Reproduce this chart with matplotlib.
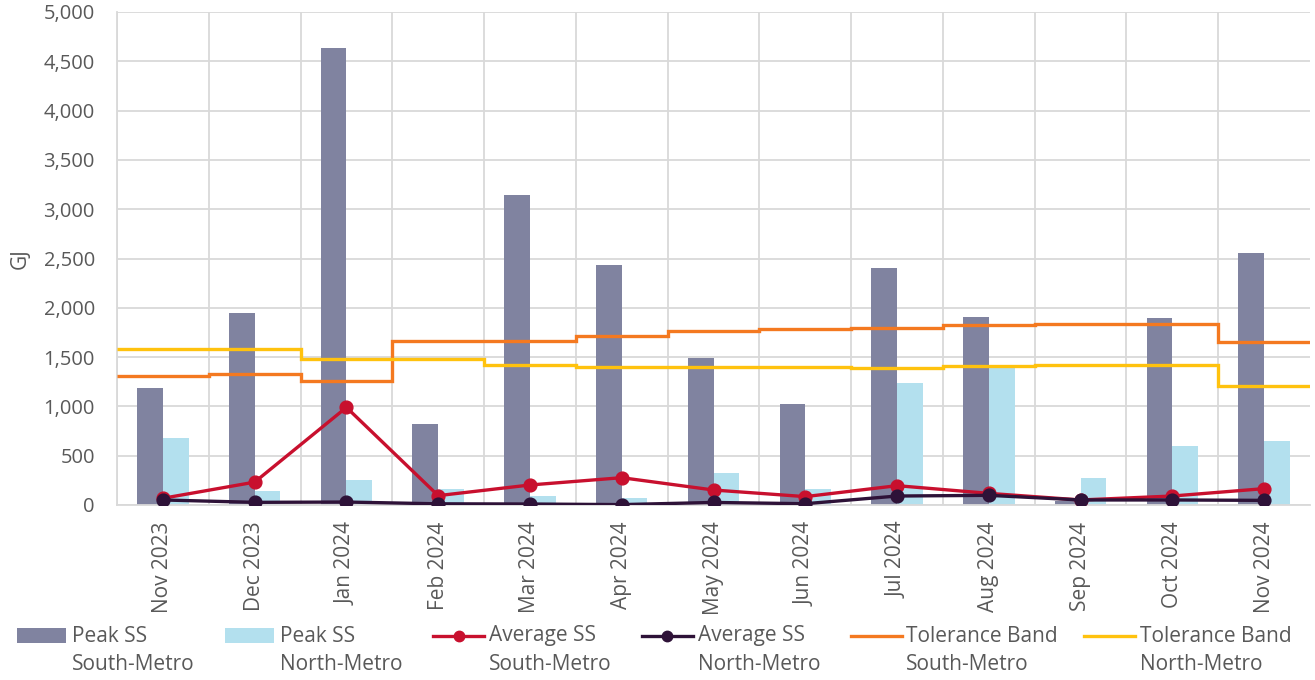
import matplotlib
matplotlib.use("Agg")
import matplotlib.pyplot as plt
import numpy as np
from matplotlib.ticker import FuncFormatter, MultipleLocator, FixedLocator
from matplotlib.patches import Rectangle
from matplotlib.lines import Line2D

plt.rcParams['font.family'] = ['Open Sans', 'DejaVu Sans']

months = ["Nov 2023", "Dec 2023", "Jan 2024", "Feb 2024", "Mar 2024", "Apr 2024",
          "May 2024", "Jun 2024", "Jul 2024", "Aug 2024", "Sep 2024", "Oct 2024", "Nov 2024"]
peak_south = [1186, 1944, 4630, 824, 3145, 2436, 1487, 1021, 2403, 1910, 45, 1896, 2555]
peak_north = [676, 142, 250, 162, 91, 68, 324, 159, 1240, 1392, 270, 602, 646]
avg_south = [68, 232, 990, 95, 203, 277, 152, 85, 196, 118, 51, 91, 166]
avg_north = [51, 27, 30, 12, 10, 4, 26, 13, 91, 98, 51, 51, 47]
tol_south = [1311, 1328, 1257, 1660, 1663, 1717, 1764, 1785, 1795, 1825, 1838, 1835, 1656]
tol_north = [1579, 1582, 1480, 1477, 1416, 1403, 1403, 1396, 1392, 1406, 1416, 1423, 1203]
legend_labels = [("Peak SS", "South-Metro"), ("Peak SS", "North-Metro"),
                 ("Average SS", "South-Metro"), ("Average SS", "North-Metro"),
                 ("Tolerance Band", "South-Metro"), ("Tolerance Band", "North-Metro")]

c_ps = "#8083A0"
c_pn = "#B3E0EE"
c_as = "#C8102E"
c_an = "#2E1238"
c_ts = "#F47920"
c_tn = "#FFC20E"
grid_c = "#D9D9D9"
text_c = "#595959"

W, H = 1315, 680
fig = plt.figure(figsize=(W/100, H/100), dpi=100)
ax = fig.add_axes([117/W, 1-505/H, (1310-117)/W, (505-12)/H])

x = np.arange(len(months))
w = 0.28
ax.bar(x - w/2, peak_south, width=w, color=c_ps, zorder=2)
ax.bar(x + w/2, peak_north, width=w, color=c_pn, zorder=2)
edges = np.arange(len(months) + 1) - 0.5
ax.stairs(tol_south, edges, baseline=None, color=c_ts, lw=2.4, zorder=3)
ax.stairs(tol_north, edges, baseline=None, color=c_tn, lw=2.4, zorder=3)
ax.plot(x, avg_south, color=c_as, lw=2.4, marker="o", ms=9.2, zorder=4)
ax.plot(x, avg_north, color=c_an, lw=2.4, marker="o", ms=9.2, zorder=5)

ax.set_xlim(-0.5, len(months) - 0.5)
ax.set_ylim(0, 5000)
ax.yaxis.set_major_locator(MultipleLocator(500))
ax.yaxis.set_major_formatter(FuncFormatter(lambda v, p: f"{int(v):,}"))
ax.set_xticks(x)
ax.set_xticklabels(months, rotation=90)
ax.xaxis.set_minor_locator(FixedLocator(edges[:-1]))
ax.grid(axis="y", which="major", color=grid_c, lw=1.3, zorder=0)
ax.grid(axis="x", which="minor", color=grid_c, lw=1.3, zorder=0)
ax.tick_params(axis="both", which="both", length=0, labelcolor=text_c)
ax.tick_params(axis="x", pad=12, labelsize=15)
ax.tick_params(axis="y", pad=16, labelsize=14.5)
for s in ["top", "right"]:
    ax.spines[s].set_visible(False)
for s in ["left", "bottom"]:
    ax.spines[s].set_color(grid_c)
    ax.spines[s].set_linewidth(1.3)
ax.set_ylabel("GJ", fontsize=15, color=text_c, labelpad=9)

# legend (manual, Excel-style two-line labels)
handle_x = [17, 225, 433, 642, 851, 1084]
text_x = [72, 280, 489, 698, 906, 1140]
kinds = [("patch", c_ps), ("patch", c_pn), ("marker", c_as), ("marker", c_an),
         ("line", c_ts), ("line", c_tn)]
y1, y2 = 636, 665
for (kind, col), hx, tx, (l1, l2) in zip(kinds, handle_x, text_x, legend_labels):
    if kind == "patch":
        fig.add_artist(Rectangle((hx/W, 1-643/H), 49/W, 15/H, transform=fig.transFigure,
                                 color=col, lw=0))
    else:
        fig.add_artist(Line2D([hx/W, (hx+51)/W], [1-y1/H, 1-y1/H], transform=fig.transFigure,
                              color=col, lw=2.4))
        if kind == "marker":
            fig.add_artist(Line2D([(hx+25.5)/W], [1-y1/H], transform=fig.transFigure,
                                  color=col, marker="o", ms=7.5, lw=0))
    fig.text(tx/W, 1-y1/H, l1, fontsize=15, color=text_c, va="center", ha="left")
    fig.text(tx/W, 1-y2/H, l2, fontsize=15, color=text_c, va="center", ha="left")

fig.savefig("out.png", dpi=100)
